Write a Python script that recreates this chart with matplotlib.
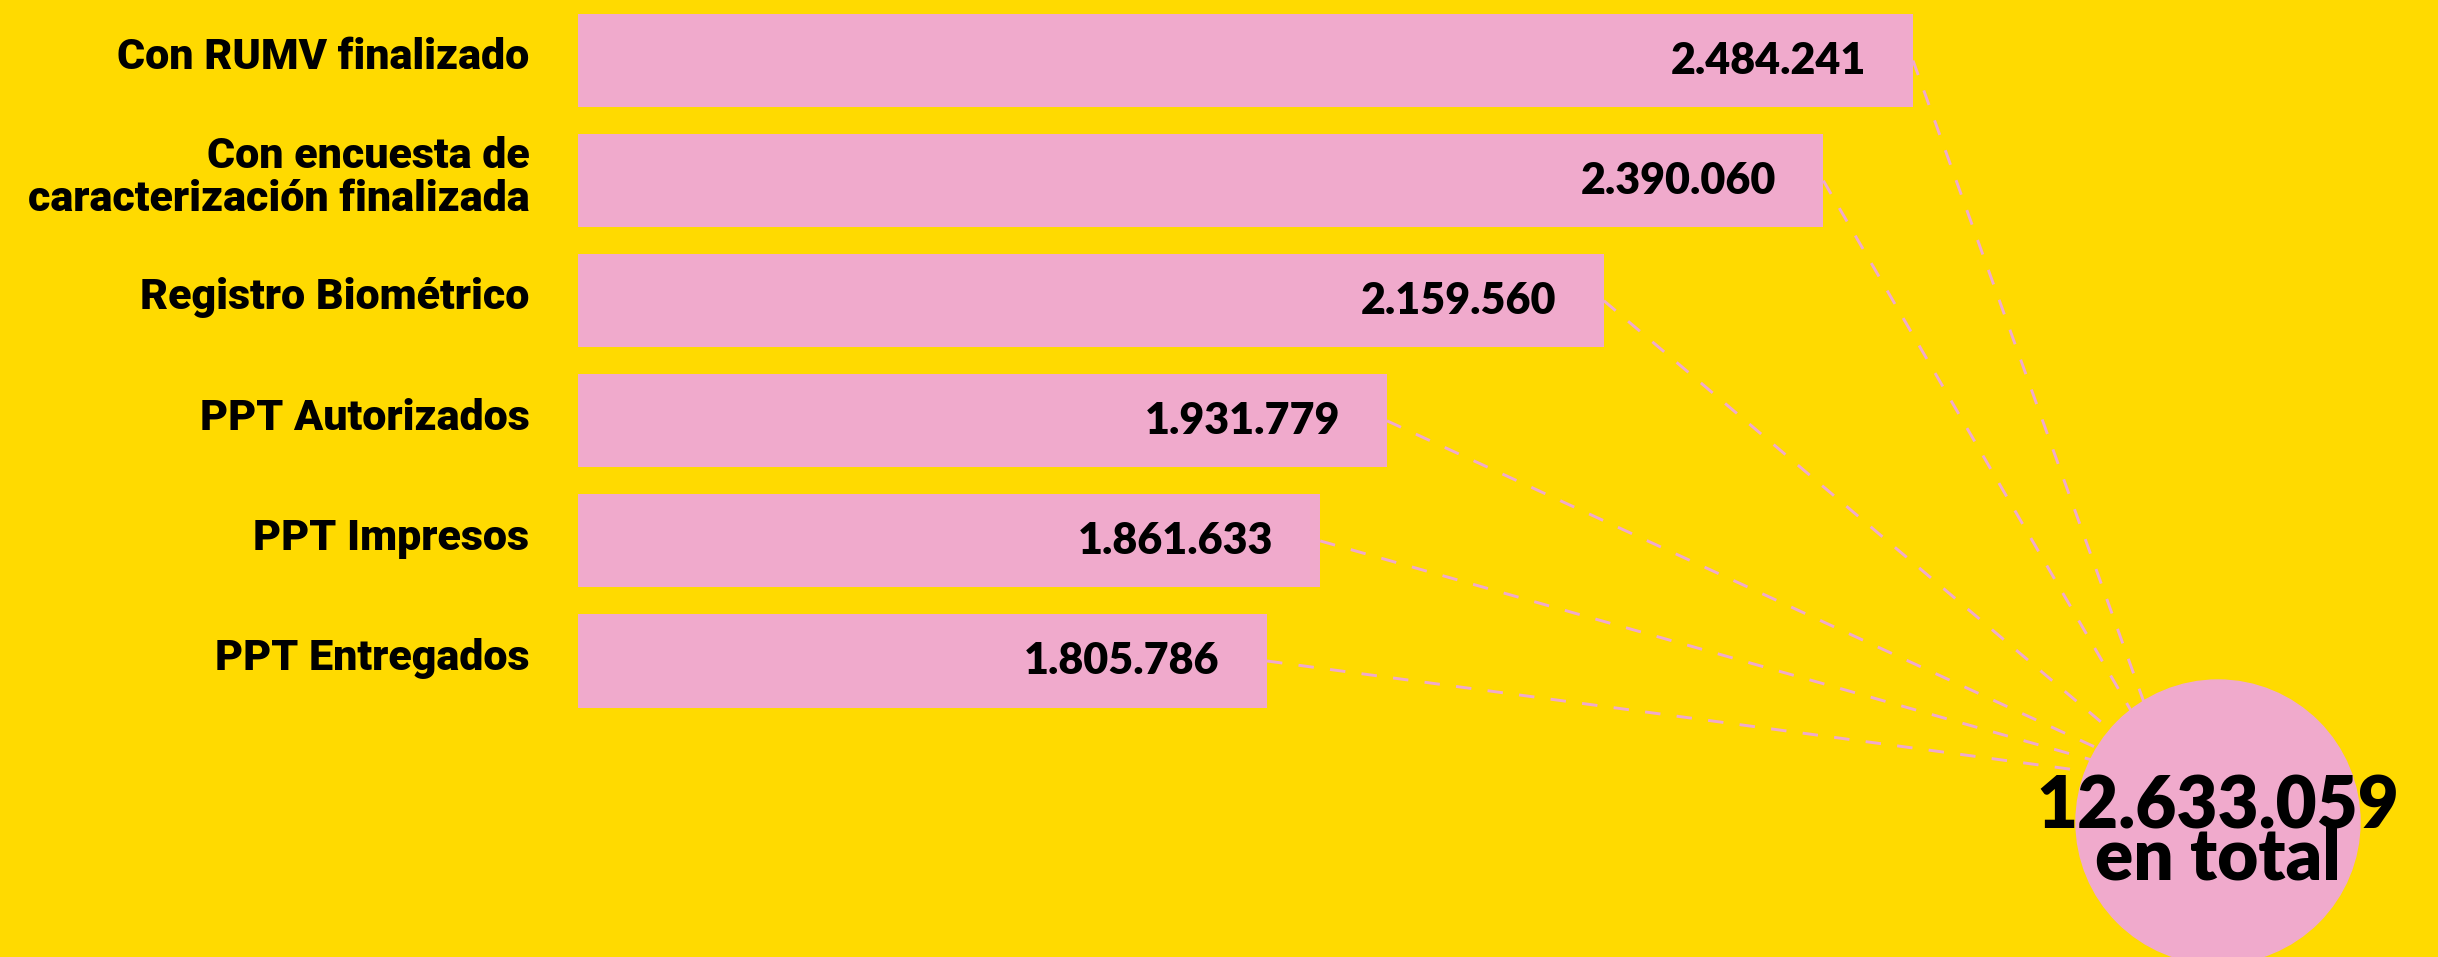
import matplotlib
matplotlib.use('Agg')
import matplotlib.pyplot as plt
from matplotlib.patches import Circle

# data
categories = ["Con RUMV finalizado",
              "Con encuesta de\ncaracterización finalizada",
              "Registro Biométrico",
              "PPT Autorizados",
              "PPT Impresos",
              "PPT Entregados"]
values = [2484241, 2390060, 2159560, 1931779, 1861633, 1805786]
total_label = "en total"

YELLOW = '#FFDA00'
PINK = '#F0AACC'
LABEL_FONT = 'Roboto'
NUM_FONT = 'Lato'

W, H, DPI = 2438, 957, 100


def fmt(v):
    return f"{v:,}".replace(",", ".")


fig = plt.figure(figsize=(W / DPI, H / DPI), dpi=DPI)
fig.patch.set_facecolor(YELLOW)

# bar axes: starts at x=578px, value axis does not start at zero (as in the infographic)
x0_px = 578
px_per_unit = (1335 - 689) / (values[0] - values[-1])
v0 = values[0] - 1335 / px_per_unit
ax = fig.add_axes([x0_px / W, 0, (W - x0_px) / W, 1])
ax.set_facecolor('none')
ax.set_xlim(v0, v0 + (W - x0_px) / px_per_unit)
pitch = 120.1
top = 60.5
ax.set_ylim((H - top) / pitch, -top / pitch)
ax.axis('off')

ys = list(range(len(values)))
ax.barh(ys, values, height=0.775, color=PINK, zorder=2)

for y, v in zip(ys, values):
    ax.annotate(fmt(v), xy=(v, y), xytext=(-34, 0), textcoords='offset points',
                ha='right', va='center', fontsize=31, fontweight='heavy',
                family=NUM_FONT, color='black', zorder=3)

# category labels to the left of the bars
for y, lab in zip(ys, categories):
    ax.annotate(lab, xy=(0, y), xycoords=('axes fraction', 'data'),
                xytext=(-35, 2), textcoords='offset points',
                ha='right', va='center', multialignment='right',
                fontsize=31, fontweight='black', family=LABEL_FONT,
                linespacing=1.05, color='black', annotation_clip=False)

# overlay in figure pixels for the total circle and connectors
ax2 = fig.add_axes([0, 0, 1, 1], zorder=5)
ax2.set_xlim(0, W)
ax2.set_ylim(H, 0)
ax2.axis('off')
ax2.patch.set_alpha(0)

cx, cy, r = 2218, 822, 142
hub = (2173, 783)
fig.canvas.draw()
for y, v in zip(ys, values):
    disp = ax.transData.transform((v, y))
    sx, sy = ax2.transData.inverted().transform(disp)
    ax2.plot([sx, hub[0]], [sy, hub[1]], color=PINK, lw=2.1,
             linestyle=(0, (5.3, 5.6)), zorder=1)

ax2.add_patch(Circle((cx, cy), r, color=PINK, zorder=2))
ax2.text(cx, 879, fmt(sum(values)) + "\n" + total_label, ha='center', va='baseline',
         multialignment='center', fontsize=51, fontweight='heavy', family=NUM_FONT,
         linespacing=0.72, color='black', zorder=3)

fig.savefig('out.png', dpi=DPI, facecolor=YELLOW)
